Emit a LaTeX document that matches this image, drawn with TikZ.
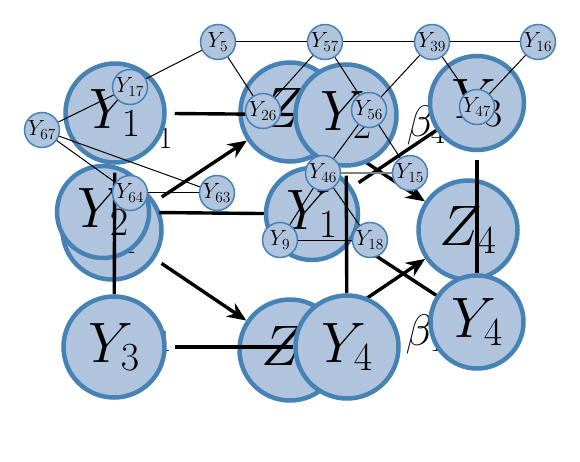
\documentclass[tikz,border=0pt]{standalone}
\usepackage{fix-cm}
\usepackage{tikz}
\usetikzlibrary{arrows.meta}
\definecolor{nodefill}{RGB}{176,196,222}
\definecolor{nodeline}{RGB}{70,130,180}
\pgfdeclarelayer{base}
\pgfdeclarelayer{edges}
\pgfdeclarelayer{front}
\pgfsetlayers{base,edges,front,main}

\begin{document}
\begin{tikzpicture}[x=1pt, y=-1pt,
  big/.style={circle, draw=nodeline, fill=nodefill, line width=4.5pt, minimum size=99pt, inner sep=0pt, font=\fontsize{57}{60}\selectfont},
  bigsm/.style={big, minimum size=92pt},
  small/.style={circle, draw=nodeline, fill=nodefill, line width=1.5pt, minimum size=35pt, inner sep=0pt, font=\fontsize{22}{24}\selectfont},
  coef/.style={inner sep=0pt, font=\fontsize{44}{46}\selectfont},
  lnk/.style={line width=3.4pt, shorten <=8pt},
  arr/.style={lnk, -{Stealth[length=19pt, width=16pt]}},
  thin/.style={line width=1pt}]
\useasboundingbox (0,0) rectangle (580,462);
% rear layer
\begin{pgfonlayer}{base}
\node[coef] (l1) at (153,130) {$\lambda_1$};
\node[coef] (l3) at (152,333) {$\lambda_1$};
\node[coef] (b4) at (426,126) {$\beta_4$};
\node[coef] (b1) at (425,334) {$\beta_1$};
\node[big] (z1) at (290,112) {$Z_1$};
\node[big] (y1c) at (112,230) {$Y_1$};
\node[bigsm] (y2b) at (103,212) {$Y_2$};
\node[big, minimum size=101pt] (z3) at (290,350) {$Z_3$};
\node[bigsm] (y1b) at (312,214) {$Y_1$};
\node[big] (z4) at (468,230) {$Z_4$};
\end{pgfonlayer}
% front layer
\begin{pgfonlayer}{front}
\node[big] (y1a) at (115,113) {$Y_1$};
\node[big, minimum size=101pt] (y2a) at (346,115) {$Y_2$};
\node[big, minimum size=101pt] (y3a) at (114,347) {$Y_3$};
\node[big, minimum size=103pt] (y4a) at (347,347) {$Y_4$};
\node[bigsm, minimum size=94pt] (y3b) at (477,103) {$Y_3$};
\node[bigsm, minimum size=93pt] (y4b) at (477,322) {$Y_4$};
\end{pgfonlayer}
% thick connectors
\begin{pgfonlayer}{edges}
\draw[arr] (z1) -- (z4);
\draw[arr] (z3) -- (z4);
\draw[arr] (y1c) -- (z1);
\draw[arr] (y1c) -- (z3);
\draw[lnk] (y1a) -- (y2a);
\draw[lnk] (y2b) -- (y1b);
\draw[lnk] (y3a) -- (y4a);
\draw[lnk] (y1a) -- (y3a);
\draw[lnk] (y2a) -- (y4a);
\draw[lnk] (y3b) -- (y4b);
\draw[lnk] (y1b) -- (y3b);
\draw[lnk] (y1b) -- (y4b);
\end{pgfonlayer}
% small nodes
\node[small] (s5) at (218,42) {$Y_{5}$};
\node[small] (s57) at (325,42) {$Y_{57}$};
\node[small] (s39) at (432,42) {$Y_{39}$};
\node[small] (s16) at (538,42) {$Y_{16}$};
\node[small] (s17) at (130,87) {$Y_{17}$};
\node[small] (s67) at (42,130) {$Y_{67}$};
\node[small] (s26) at (263,111) {$Y_{26}$};
\node[small] (s56) at (369,110) {$Y_{56}$};
\node[small] (s47) at (477,107) {$Y_{47}$};
\node[small] (s64) at (130,193) {$Y_{64}$};
\node[small] (s63) at (217,193) {$Y_{63}$};
\node[small] (s46) at (323,173) {$Y_{46}$};
\node[small] (s15) at (410,173) {$Y_{15}$};
\node[small] (s9) at (280,240) {$Y_{9}$};
\node[small] (s18) at (370,240) {$Y_{18}$};
\draw[thin] (s5) -- (s57);
\draw[thin] (s57) -- (s39);
\draw[thin] (s39) -- (s16);
\draw[thin] (s5) -- (s17);
\draw[thin] (s5) -- (s26);
\draw[thin] (s57) -- (s26);
\draw[thin] (s57) -- (s56);
\draw[thin] (s39) -- (s56);
\draw[thin] (s39) -- (s47);
\draw[thin] (s16) -- (s47);
\draw[thin] (s17) -- (s67);
\draw[thin] (s67) -- (s64);
\draw[thin] (s67) -- (s63);
\draw[thin] (s64) -- (s63);
\draw[thin] (s56) -- (s46);
\draw[thin] (s56) -- (s15);
\draw[thin] (s46) -- (s9);
\draw[thin] (s46) -- (s18);
\draw[thin] (s9) -- (s18);
\draw[thin, gray, line width=1.6pt] (s46) -- (s15);
\end{tikzpicture}
\end{document}
